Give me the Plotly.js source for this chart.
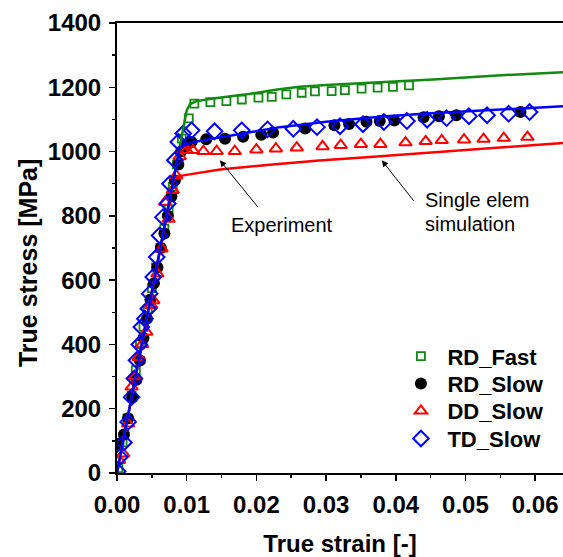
<!DOCTYPE html>
<html>
<head>
<meta charset="utf-8">
<script src="https://cdn.plot.ly/plotly-3.0.1.min.js"></script>
<style>html,body{margin:0;padding:0;background:#fff;}#chart{width:563px;height:557px;}</style>
</head>
<body>
<div id="chart"></div>
<script>
// Experimental data (true strain [-], true stress [MPa])
const rdFastStrain = [0.0002,0.0008,0.0015,0.0021,0.0027,0.0033,0.0038,0.0044,0.0050,0.0056,0.0062,0.0068,0.0074,0.0080,0.0086,0.0093,
  0.0103,0.0111,0.0134,0.0157,0.0179,0.0203,0.0222,0.0243,0.0265,0.0284,0.0308,0.0327,0.0351,0.0374,0.0396,0.0419];
const rdFastStress = [15,95,170,240,320,400,455,510,575,640,700,760,820,890,960,1040,
  1103,1149,1154,1157,1162,1168,1170,1178,1183,1187,1188,1191,1196,1199,1201,1206];

const rdSlowStrain = [0.0002,0.0010,0.0016,0.0022,0.0028,0.0033,0.0038,0.0043,0.0048,0.0053,0.0058,0.0063,0.0068,0.0073,0.0078,0.0083,0.0088,0.0092,
  0.0100,0.0107,0.0128,0.0155,0.0181,0.0207,0.0224,0.0270,0.0312,0.0333,0.0358,0.0377,0.0398,0.0440,0.0462,0.0487,0.0579];
const rdSlowStress = [90,120,170,235,290,350,420,480,540,590,640,700,745,800,860,910,960,1000,
  1020,1030,1038,1040,1046,1052,1059,1072,1082,1086,1093,1095,1097,1107,1110,1113,1123];

const ddSlowStrain = [0.0003,0.0009,0.0016,0.0021,0.0026,0.0031,0.0036,0.0042,0.0049,0.0052,0.0058,0.0064,0.0069,0.0074,0.0080,0.0085,0.0090,
  0.0095,0.0100,0.0109,0.0124,0.0143,0.0169,0.0200,0.0228,0.0258,0.0295,0.0321,0.0350,0.0378,0.0414,0.0443,0.0466,0.0498,0.0526,0.0555,0.0589];
const ddSlowStress = [40,60,153,268,300,360,400,439,522,537,620,698,843,790,880,925,985,
  1004,1004,1004,1001,1001,1001,1006,1009,1012,1016,1020,1023,1023,1028,1032,1035,1037,1039,1042,1045];

const tdSlowStrain = [0.0001,0.0004,0.0010,0.0016,0.0021,0.0025,0.0028,0.0032,0.0035,0.0040,0.0045,0.0047,0.0052,0.0057,0.0061,0.0066,0.0073,0.0076,0.0083,0.0088,0.0095,
  0.0107,0.0140,0.0179,0.0216,0.0253,0.0287,0.0320,0.0353,0.0383,0.0416,0.0445,0.0473,0.0505,0.0531,0.0562,0.0592];
const tdSlowStress = [5,50,95,159,236,294,351,400,454,480,511,558,610,672,739,796,838,900,973,1030,1056,
  1066,1063,1066,1069,1071,1076,1079,1085,1092,1095,1099,1104,1110,1113,1118,1123];

// Single element simulations
const simFastStrain = [0,0.0088,0.0095,0.0100,0.0105,0.0114,0.0138,0.0186,0.0230,0.0262,0.0300,0.0454,0.0540,0.0640];
const simFastStress = [0,985,1075,1128,1148,1157,1165,1178,1193,1202,1207,1224,1236,1247];
const simDDStrain = [0,0.0082,0.0095,0.0148,0.0219,0.0290,0.0363,0.0430,0.0507,0.0580,0.0641];
const simDDStress = [0,920,926,944,959,972,983,994,1006,1017,1027];
const simRDStrain = [0,0.00901,0.0110,0.0138,0.0180,0.0234,0.0300,0.0377,0.0450,0.0521,0.0580,0.0640];
const simRDStress = [0,1014,1030,1040,1057,1076,1093,1108,1119,1128,1135,1141];

const legendNames = ['RD_Fast','RD_Slow','DD_Slow','TD_Slow'];
const xTitle = 'True strain [-]';
const yTitle = 'True stress [MPa]';

const GREEN = '#108a10', RED = '#ff0000', BLUE = '#0000ff', BLACK = '#000000';
const FONT = 'Liberation Sans, Arial, Helvetica, sans-serif';

const traces = [
  {x: rdFastStrain, y: rdFastStress, name: legendNames[0], mode: 'markers', type: 'scatter', legend: 'legend',
   marker: {symbol: 'square-open', size: 8, color: GREEN, line: {width: 1.8, color: GREEN}}},
  {x: rdSlowStrain, y: rdSlowStress, name: legendNames[1], mode: 'markers', type: 'scatter', legend: 'legend2',
   marker: {symbol: 'circle', size: 12, color: BLACK}},
  {x: ddSlowStrain, y: ddSlowStress, name: legendNames[2], mode: 'markers', type: 'scatter', legend: 'legend3',
   marker: {symbol: 'triangle-up-open', size: 11, color: RED, line: {width: 2, color: RED}}},
  {x: tdSlowStrain, y: tdSlowStress, name: legendNames[3], mode: 'markers', type: 'scatter', legend: 'legend4',
   marker: {symbol: 'diamond-open', size: 12, color: BLUE, line: {width: 2, color: BLUE}}},
  {x: simFastStrain, y: simFastStress, mode: 'lines', type: 'scatter', showlegend: false,
   line: {color: GREEN, width: 2.5}},
  {x: simDDStrain, y: simDDStress, mode: 'lines', type: 'scatter', showlegend: false,
   line: {color: RED, width: 2.5}},
  {x: simRDStrain, y: simRDStress, mode: 'lines', type: 'scatter', showlegend: false,
   line: {color: BLUE, width: 2.5}}
];

function leg(yc) {
  return {x: 0.622, y: yc, xanchor: 'left', yanchor: 'middle', bgcolor: 'rgba(0,0,0,0)',
    font: {family: FONT, size: 22, weight: 'bold', color: '#000'}, itemwidth: 43};
}

const layout = {
  width: 563, height: 557,
  margin: {l: 117, r: 0, t: 23, b: 84, pad: 0},
  paper_bgcolor: '#fff', plot_bgcolor: '#fff',
  font: {family: FONT, color: '#000'},
  showlegend: true,
  legend: leg(0.2593),
  legend2: leg(0.1987),
  legend3: leg(0.1378),
  legend4: leg(0.0762),
  xaxis: {
    range: [0, 0.064], dtick: 0.01, tick0: 0, tickformat: '.2f',
    ticks: 'outside', ticklen: 6, tickwidth: 1.5, tickcolor: '#000',
    minor: {dtick: 0.005, ticks: 'outside', ticklen: 3, tickwidth: 1.5, tickcolor: '#000'},
    showline: true, linewidth: 2, linecolor: '#000', mirror: true,
    showgrid: false, zeroline: false,
    tickfont: {family: FONT, size: 24, weight: 'bold', color: '#000'},
    ticklabelstandoff: 3,
    title: {text: xTitle, font: {family: FONT, size: 24, weight: 'bold', color: '#000'}, standoff: 20}
  },
  yaxis: {
    range: [0, 1400], dtick: 200, tick0: 0,
    ticks: 'outside', ticklen: 6, tickwidth: 1.5, tickcolor: '#000',
    minor: {dtick: 100, ticks: 'outside', ticklen: 3, tickwidth: 1.5, tickcolor: '#000'},
    showline: true, linewidth: 2, linecolor: '#000', mirror: false,
    showgrid: false, zeroline: false,
    tickfont: {family: FONT, size: 24, weight: 'bold', color: '#000'},
    ticklabelstandoff: 3
  },
  annotations: [
    {xref: 'paper', yref: 'paper', x: -0.2, y: 0.466, text: yTitle, textangle: -90, showarrow: false,
     xanchor: 'center', yanchor: 'middle', font: {family: FONT, size: 25, weight: 'bold', color: '#000'}},
    {x: 0.01476, y: 973, xref: 'x', yref: 'y', text: '', showarrow: true, ax: 39, ay: 48,
     arrowhead: 2, arrowsize: 1.3, arrowwidth: 1, arrowcolor: '#000'},
    {x: 0.0380, y: 973, xref: 'x', yref: 'y', text: '', showarrow: true, ax: 33, ay: 42,
     arrowhead: 2, arrowsize: 1.3, arrowwidth: 1, arrowcolor: '#000'},
    {x: 0.02374, y: 772, xref: 'x', yref: 'y', text: 'Experiment', showarrow: false,
     xanchor: 'center', yanchor: 'middle', font: {family: FONT, size: 20, color: '#000'}},
    {x: 0.0439, y: 848, xref: 'x', yref: 'y', text: 'Single elem', showarrow: false,
     xanchor: 'left', yanchor: 'middle', font: {family: FONT, size: 20, color: '#000'}},
    {x: 0.0439, y: 776, xref: 'x', yref: 'y', text: 'simulation', showarrow: false,
     xanchor: 'left', yanchor: 'middle', font: {family: FONT, size: 20, color: '#000'}}
  ]
};

Plotly.newPlot('chart', traces, layout, {displayModeBar: false, staticPlot: true});
</script>
</body>
</html>
